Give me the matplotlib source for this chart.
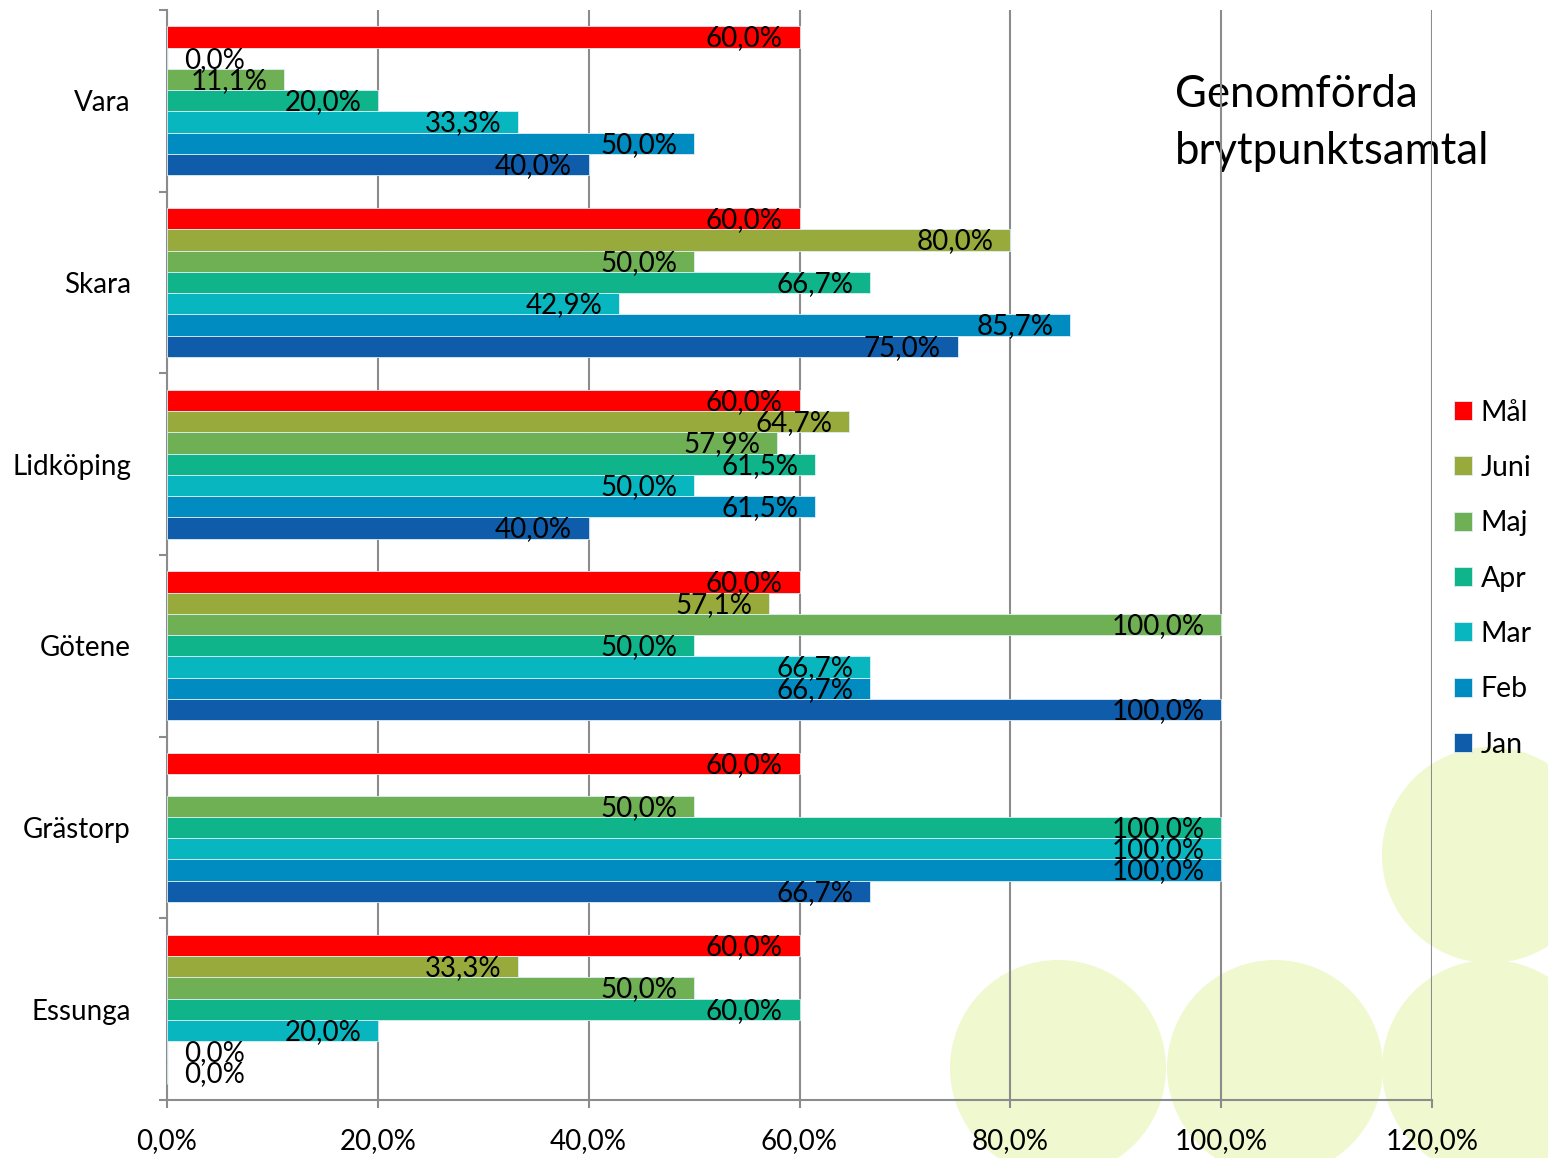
import matplotlib
matplotlib.use('Agg')
import matplotlib.pyplot as plt
import numpy as np
from matplotlib.patches import Circle

plt.rcParams['font.family'] = ['Lato', 'DejaVu Sans']

# Data (percent)
categories = ['Vara', 'Skara', 'Lidköping', 'Götene', 'Grästorp', 'Essunga']
series_names = ['Mål', 'Juni', 'Maj', 'Apr', 'Mar', 'Feb', 'Jan']
mal = [60.0, 60.0, 60.0, 60.0, 60.0, 60.0]
juni = [0.0, 80.0, 64.7, 57.1, np.nan, 33.3]
maj = [11.1, 50.0, 57.9, 100.0, 50.0, 50.0]
apr_ = [20.0, 66.7, 61.5, 50.0, 100.0, 60.0]
mar = [33.3, 42.9, 50.0, 66.7, 100.0, 20.0]
feb = [50.0, 85.7, 61.5, 66.7, 100.0, 0.0]
jan = [40.0, 75.0, 40.0, 100.0, 66.7, 0.0]
series_values = [mal, juni, maj, apr_, mar, feb, jan]
colors = ['#FF0000', '#98AA3C', '#6FB054', '#10B48A', '#08B6C0', '#008BC1', '#0E5CAA']
xticks = [0, 20, 40, 60, 80, 100, 120]

fig = plt.figure(figsize=(15.48, 11.58), dpi=100)

# background decoration (pixel coordinates)
bg = fig.add_axes([0, 0, 1, 1], zorder=0)
bg.set_xlim(0, 1548)
bg.set_ylim(1158, 0)
bg.axis('off')
for cx, cy in [(1058, 1068), (1275, 1068), (1490, 1068), (1490, 855)]:
    bg.add_patch(Circle((cx, cy), 108, color='#F0F8CF', lw=0))
bg.text(1175, 74, 'Genomförda\nbrytpunktsamtal', fontsize=31.5, va='top', ha='left',
        linespacing=1.5)

ax = fig.add_axes([167 / 1548, 1 - 1100 / 1158, (1432 - 167) / 1548, 1090 / 1158], zorder=1)
ax.set_facecolor('none')

n = len(series_names)
h = 0.82 / n
y = np.arange(len(categories))
handles = []
for k, (name, vals, c) in enumerate(zip(series_names, series_values, colors)):
    pos = y + (k - (n - 1) / 2) * h
    bars = ax.barh(pos, vals, height=h, color=c, edgecolor='#DDEFF5', linewidth=0.6,
                   label=name, zorder=3)
    handles.append(bars)
    for yy, v in zip(pos, vals):
        if np.isnan(v):
            continue
        lab = f'{v:.1f}%'.replace('.', ',')
        if v < 5:
            ax.annotate(lab, (0, yy), xytext=(12, -1), textcoords='offset points',
                        ha='left', va='center', fontsize=20, zorder=4)
        else:
            ax.annotate(lab, (v, yy), xytext=(-12, -1), textcoords='offset points',
                        ha='right', va='center', fontsize=20, zorder=4)

ax.set_xlim(0, 120)
ax.set_ylim(len(categories) - 0.5, -0.5)
ax.set_xticks(xticks)
ax.set_xticklabels([f'{t:.1f}%'.replace('.', ',') for t in xticks], fontsize=20)
ax.xaxis.grid(True, color='#8C8C8C', linewidth=1.5, zorder=1)
ax.set_axisbelow(True)

ax.set_yticks(np.arange(len(categories) + 1) - 0.5)
ax.set_yticklabels([])
ax.set_yticks(y, minor=True)
ax.set_yticklabels(categories, minor=True, fontsize=20)
ax.tick_params(axis='y', which='minor', length=0, pad=26)
ax.tick_params(axis='y', which='major', length=6, width=1.5, color='#8C8C8C')
ax.tick_params(axis='x', length=6, width=1.5, color='#8C8C8C', pad=14)

for s in ['top', 'right']:
    ax.spines[s].set_visible(False)
for s in ['left', 'bottom']:
    ax.spines[s].set_color('#8C8C8C')
    ax.spines[s].set_linewidth(1.5)

leg = ax.legend(handles=handles, labels=series_names, loc='upper left',
                bbox_to_anchor=(1428 / 1548, 1 - 374 / 1158), bbox_transform=fig.transFigure,
                frameon=False, fontsize=20.5, handlelength=0.65, handleheight=0.65,
                handletextpad=0.3, labelspacing=1.03)

fig.savefig('out.png', dpi=100)
